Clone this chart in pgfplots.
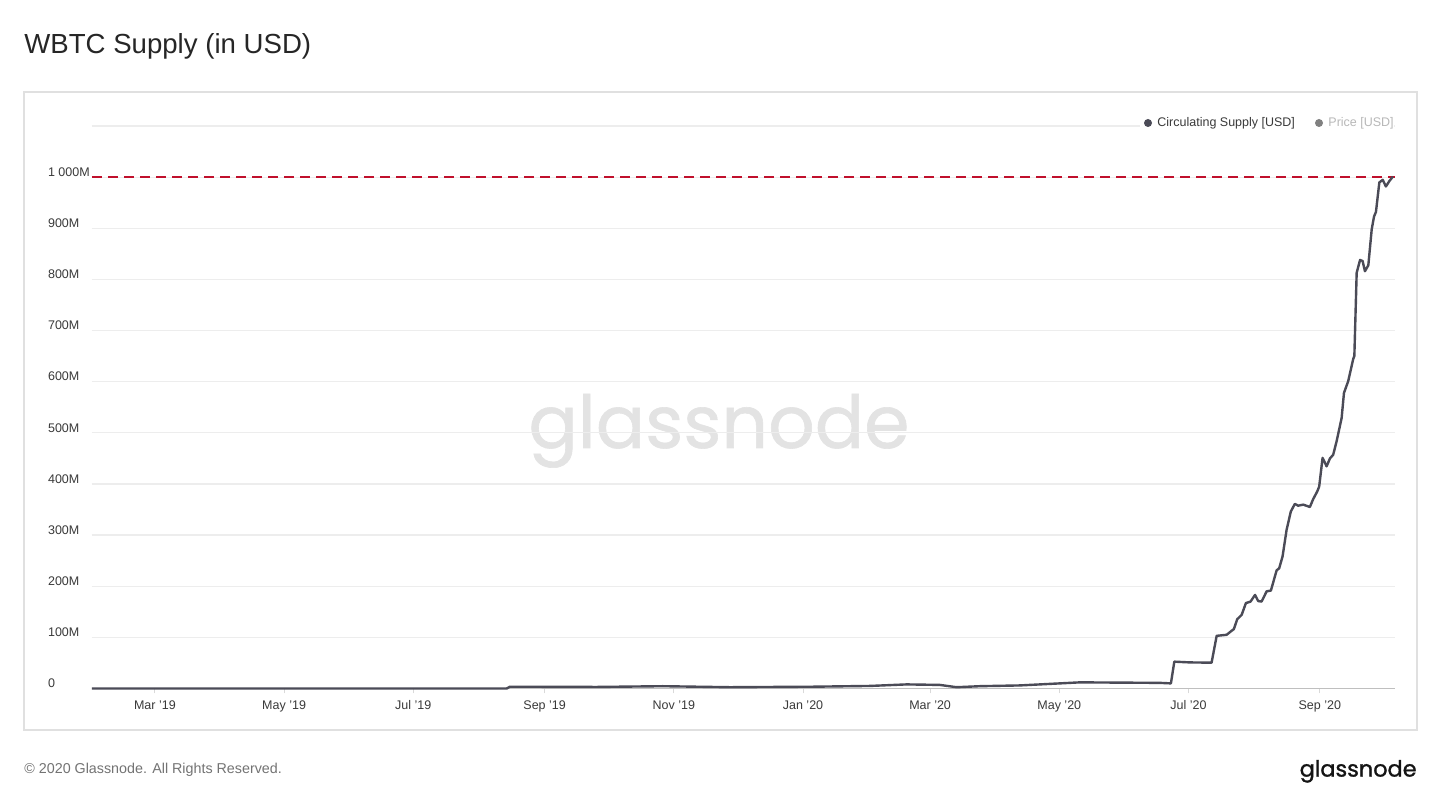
\documentclass[border=0pt]{standalone}
\usepackage{pgfplots}
\pgfplotsset{compat=1.18}
\usepackage{fontspec}
\setmainfont{Liberation Sans}
\newfontfamily\pop{Poppins}
\newfontfamily\popb[FakeBold=1.2]{Poppins}
\newfontfamily\popw[FakeBold=0.8]{Poppins}
\definecolor{curve}{HTML}{4B4B57}
\definecolor{redline}{HTML}{C0102C}
\definecolor{gridc}{HTML}{EDEDED}
\definecolor{labc}{HTML}{3A3A3A}
\begin{document}
\begin{tikzpicture}
\path[use as bounding box, fill=white] (0,0) rectangle (720pt,404pt);
% title
\node[anchor=base west, inner sep=0pt, text=black!85] at (12pt,377.25pt) {\fontsize{13.8pt}{16pt}\selectfont WBTC Supply (in USD)};
% frame
\draw[color=black!12, line width=0.6pt] (12pt,39pt) rectangle (708.5pt,358pt);
% watermark
\node[anchor=base, inner sep=0pt, text=black!11] at (359.5pt,180pt) {\popw\fontsize{36.5pt}{40pt}\selectfont glassnode};
% footer
\node[anchor=base west, inner sep=0pt, text=black!55] at (12pt,17.3pt) {\fontsize{7.15pt}{8pt}\selectfont \textcopyright{} 2020 Glassnode. All Rights Reserved.};
\node[anchor=base east, inner sep=0pt, text=black!92] at (708.5pt,15.7pt) {\popb\fontsize{11.2pt}{12pt}\selectfont glassnode};
\begin{axis}[
  at={(46pt,59.75pt)}, anchor=south west,
  scale only axis, width=651.5pt, height=281.25pt,
  xmin=-29.7, xmax=585.5, ymin=0, ymax=1100,
  axis x line*=bottom, axis y line*=left,
  x axis line style={color=black!25, line width=0.6pt, -},
  y axis line style={draw=none},
  xtick={0,61,122,184,245,306,366,427,488,550},
  xticklabels={Mar '19,May '19,Jul '19,Sep '19,Nov '19,Jan '20,Mar '20,May '20,Jul '20,Sep '20},
  xtick align=outside, major tick length=2.5pt,
  xtick style={color=black!15, line width=0.5pt},
  xticklabel style={font=\fontsize{6.25pt}{7pt}\selectfont, text=labc, text height=1.6ex, text depth=0.4ex, yshift=4pt},
  ytick={0,100,...,1100},
  yticklabels={0,100M,200M,300M,400M,500M,600M,700M,800M,900M,1 000M,{}},
  ymajorgrids, grid style={color=gridc, line width=0.6pt},
  yticklabel style={font=\fontsize{6.25pt}{7pt}\selectfont, text=labc, anchor=west, xshift=-25.5pt, yshift=2.5pt},
  ytick style={draw=none},
  clip=false,
  /pgf/number format/assume math mode=true,
]
\addplot[color=redline, line width=1.3pt, dash pattern=on 5pt off 3pt] coordinates {(-29.7,1000) (585.5,1000)};
\addplot[color=curve, line width=1.2pt, line join=round] coordinates {
(-29.7,0) (166.1,0) (167.6,3.5) (208.5,3) (239.8,4.5) (271.5,2.5) (310.7,3.5)
(337.6,5) (354.9,8) (370.6,7) (378.5,2.5) (389.5,4.5) (408.4,6) (427.3,10)
(436.7,12) (455.6,11.5) (474.5,11) (479.7,10) (481.3,52.5) (488.7,51) (498.9,50.5)
(501.3,103) (506,105) (508.4,113) (509.4,116) (511,135.5) (513.1,144) (515.1,167)
(517.3,170) (519.4,183) (520.9,171) (522.5,170) (524.9,190) (526.9,191.5) (529.6,231)
(530.8,235) (532.4,258) (534.3,310) (536.3,346) (538.2,361) (539.8,357.5) (542.2,359.5)
(545.3,355) (546.9,370.6) (548.8,385.5) (549.7,395) (551.3,451) (553.2,434.5) (554.8,450)
(556.3,457) (557.9,483) (560.3,529) (561.4,578) (563.4,601) (565.8,645) (566.3,650)
(567.4,813) (569,838) (570.2,836) (571.3,816) (572.9,827.6) (574.5,898) (575.6,923)
(576.5,932) (578.1,989.6) (579.7,994.7) (581.2,981.7) (582.9,992.7) (584.5,1001)
};
\end{axis}
% legend (white background over the top grid line)
\fill[white] (570pt,337pt) rectangle (697pt,348pt);
\fill[curve] (574pt,342.5pt) circle (2pt);
\node[anchor=west, inner sep=0pt, text=labc] at (578.5pt,342.5pt) {\fontsize{6.25pt}{7pt}\selectfont Circulating Supply [USD]};
\fill[black!50] (659.5pt,342.5pt) circle (2pt);
\node[anchor=west, inner sep=0pt, text=black!28] at (664pt,342.5pt) {\fontsize{6.25pt}{7pt}\selectfont Price [USD]};
\end{tikzpicture}
\end{document}
